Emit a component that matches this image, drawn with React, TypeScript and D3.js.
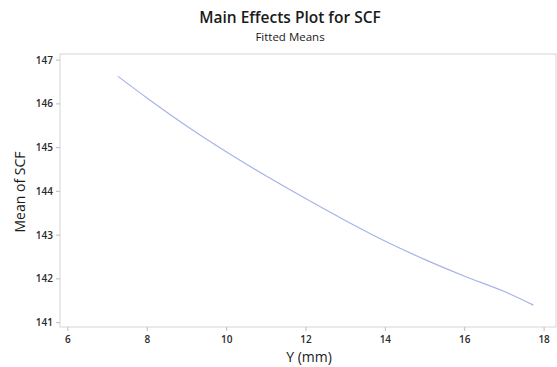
import React from "react";
import * as d3 from "d3";

const xValues = [7.26, 8, 9, 10, 11, 12, 13, 14, 15, 16, 17, 17.73];
const meanSCF = [146.63, 146.13, 145.49, 144.9, 144.35, 143.83, 143.33, 142.86, 142.44, 142.06, 141.71, 141.4];
const xTicks = [6, 8, 10, 12, 14, 16, 18];
const yTicks = [141, 142, 143, 144, 145, 146, 147];

const W = 557;
const H = 367;
const left = 60, right = 556, top = 54, bottom = 327;

export default function App() {
  const x = d3.scaleLinear().domain([5.8, 18.3]).range([left, right]);
  const y = d3.scaleLinear().domain([140.9, 147.14]).range([bottom, top]);
  const line = d3
    .line<number>()
    .x((_, i) => x(xValues[i]))
    .y((d) => y(d))
    .curve(d3.curveMonotoneX);
  const font = "'Open Sans', 'DejaVu Sans', sans-serif";
  return (
    <svg
      width={W}
      height={H}
      style={{ position: "absolute", left: 0, top: 0, background: "#fff" }}
      fontFamily={font}
    >
      <rect x={0} y={0} width={W} height={H} fill="#fff" />
      <text x={290} y={23} textAnchor="middle" fontSize={15.5} fontWeight={600} fill="#1a1a1a">
        Main Effects Plot for SCF
      </text>
      <text x={290} y={41} textAnchor="middle" fontSize={11.5} fill="#1a1a1a">
        Fitted Means
      </text>
      <rect x={left} y={top} width={right - left} height={bottom - top} fill="none" stroke="#d6d6d6" strokeWidth={1} />
      {yTicks.map((t) => (
        <g key={"y" + t}>
          <line x1={left - 4} x2={left} y1={y(t)} y2={y(t)} stroke="#bdbdbd" />
          <text x={left - 7} y={y(t)} dy="0.35em" textAnchor="end" fontSize={10} fontWeight={600} fill="#2a2a2a">
            {t}
          </text>
        </g>
      ))}
      {xTicks.map((t) => (
        <g key={"x" + t}>
          <line x1={x(t)} x2={x(t)} y1={bottom} y2={bottom + 4} stroke="#bdbdbd" />
          <text x={x(t)} y={bottom + 16} textAnchor="middle" fontSize={10} fontWeight={600} fill="#2a2a2a">
            {t}
          </text>
        </g>
      ))}
      <text x={309} y={362} textAnchor="middle" fontSize={14} fill="#1a1a1a">
        Y (mm)
      </text>
      <text
        transform={`translate(25,${192}) rotate(-90)`}
        textAnchor="middle"
        fontSize={14}
        fill="#1a1a1a"
      >
        Mean of SCF
      </text>
      <path d={line(meanSCF) || ""} fill="none" stroke="#a7b3e8" strokeWidth={1.2} />
    </svg>
  );
}
